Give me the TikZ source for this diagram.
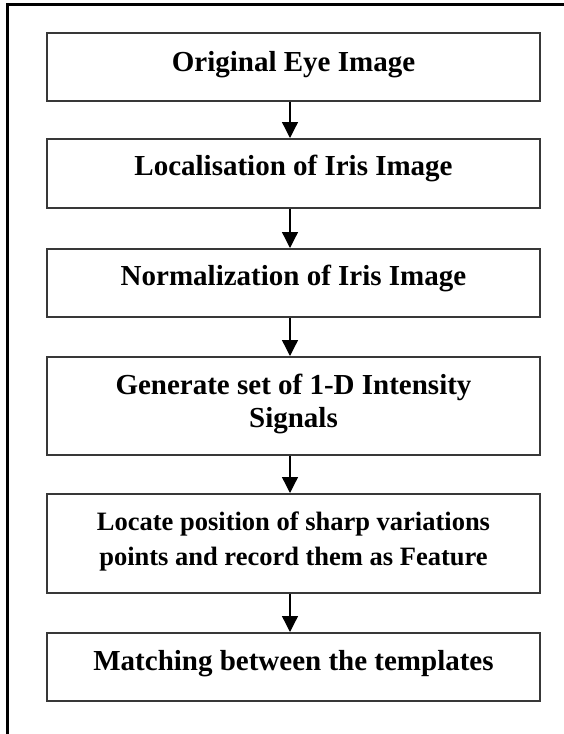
\documentclass[tikz,border=0pt]{standalone}
\usepackage{fontspec}
\setmainfont{Liberation Serif}
\usetikzlibrary{arrows.meta}

\tikzset{
  stepbox/.style={draw=black!78, line width=1.5pt, rectangle, inner sep=0pt,
    minimum width=493pt, anchor=north},
  steptext/.style={anchor=base, inner sep=0pt,
    font=\bfseries\fontsize{29}{33}\selectfont},
  steptextsmall/.style={steptext, font=\bfseries\fontsize{26.5}{33}\selectfont},
  flow/.style={line width=1.3pt, -{Triangle[length=16pt, width=16pt]}},
  frameline/.style={line width=2.6pt, line cap=rect}
}

\begin{document}
\begin{tikzpicture}[x=1pt, y=-1pt]
  \useasboundingbox (0,0) rectangle (564,734);

  % page frame (top and left edges)
  \coordinate (fcorner) at (7.5,4.5);
  \coordinate (ftop) at (566,4.5);
  \coordinate (fleft) at (7.5,736);
  \draw[frameline] (ftop) -- (fcorner) -- (fleft);

  % process boxes
  \node[stepbox, minimum height=68pt] (b1) at (293.5,32) {};
  \node[stepbox, minimum height=69pt] (b2) at (293.5,138) {};
  \node[stepbox, minimum height=68pt] (b3) at (293.5,248) {};
  \node[stepbox, minimum height=98pt] (b4) at (293.5,356) {};
  \node[stepbox, minimum height=99pt] (b5) at (293.5,493) {};
  \node[stepbox, minimum height=68pt] (b6) at (293.5,632) {};

  % box labels
  \node[steptext] (t1) at (293.5,71) {Original Eye Image};
  \node[steptext] (t2) at (293.5,175) {Localisation of Iris Image};
  \node[steptext] (t3) at (293.5,285) {Normalization of Iris Image};
  \node[steptext] (t4a) at (293.5,394) {Generate set of 1-D Intensity};
  \node[steptext] (t4b) at (293.5,427) {Signals};
  \node[steptextsmall] (t5a) at (293.5,530) {Locate position of sharp variations};
  \node[steptextsmall] (t5b) at (293.5,565) {points and record them as Feature};
  \node[steptext] (t6) at (293.5,670) {Matching between the templates};

  % connectors
  \coordinate (ax) at (290,0);
  \draw[flow] (b1.south -| ax) -- (b2.north -| ax);
  \draw[flow] (b2.south -| ax) -- (b3.north -| ax);
  \draw[flow] (b3.south -| ax) -- (b4.north -| ax);
  \draw[flow] (b4.south -| ax) -- (b5.north -| ax);
  \draw[flow] (b5.south -| ax) -- (b6.north -| ax);
\end{tikzpicture}
\end{document}
